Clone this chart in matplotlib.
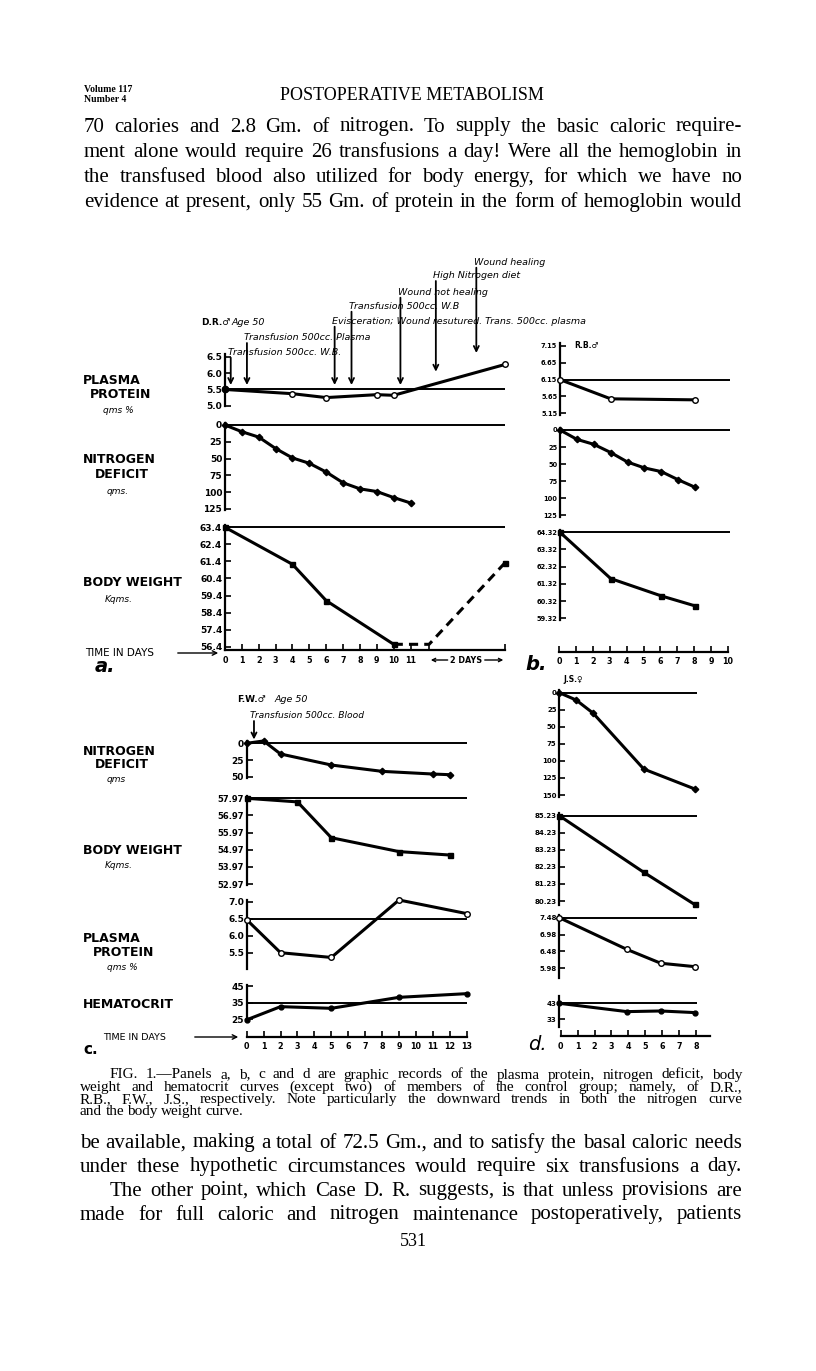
import matplotlib
matplotlib.use('Agg')
import matplotlib.pyplot as plt
from matplotlib.transforms import blended_transform_factory

plt.rcParams['font.family'] = ['DejaVu Sans']

W, H = 816, 1371
SERIF = 'Liberation Serif'

# ---- panel a : D.R. ----
a_pp_days = [0, 4, 6, 9, 10, 16.6]
a_pp = [5.5, 5.37, 5.25, 5.34, 5.32, 6.27]
a_n_days = [0, 1, 2, 3, 4, 5, 6, 7, 8, 9, 10, 11]
a_n = [0, 10, 18, 35, 49, 57, 70, 86, 95, 99, 108, 116]
a_bw_days = [0, 4, 6, 10]
a_bw = [63.4, 61.23, 59.1, 56.54]
a_bw_late_days = [10, 12.1, 16.6]      # after the "2 days" break
a_bw_late = [56.54, 56.54, 61.32]
a_events = ['Transfusion 500cc. W.B.', 'Transfusion 500cc. Plasma',
            'Evisceration; Wound resutured. Trans. 500cc. plasma',
            'Transfusion 500cc. W.B', 'Wound not healing',
            'High Nitrogen diet', 'Wound healing']
a_event_days = [0.34, 1.3, 6.5, 7.5, 10.4, 12.5, 14.9]

# ---- panel b : R.B. ----
b_pp_days = [0, 3, 8]
b_pp = [6.15, 5.58, 5.55]
b_n_days = [0, 1, 2, 3, 4, 5, 6, 7, 8]
b_n = [0, 13.7, 21, 33, 47, 55.6, 61, 73, 84]
b_bw_days = [0, 3, 6, 8]
b_bw = [64.32, 61.63, 60.62, 60.04]

# ---- panel c : F.W. ----
c_n_days = [0, 1, 2, 5, 8, 11, 12]
c_n = [0, -3.5, 16, 32.5, 42, 46, 47]
c_bw_days = [0, 3, 5, 9, 12]
c_bw = [57.97, 57.76, 55.67, 54.86, 54.66]
c_pp_days = [0, 2, 5, 9, 13]
c_pp = [6.47, 5.5, 5.36, 7.05, 6.65]
c_hct_days = [0, 2, 5, 9, 13]
c_hct = [24.7, 32.6, 31.6, 38.2, 40.4]
c_event_day = 0.43

# ---- panel d : J.S. ----
d_n_days = [0, 1, 2, 5, 8]
d_n = [0, 10.8, 30, 112, 141]
d_bw_days = [0, 5, 8]
d_bw = [85.23, 81.91, 80.03]
d_pp_days = [0, 4, 6, 8]
d_pp = [7.48, 6.54, 6.13, 6.03]
d_hct_days = [0, 4, 6, 8]
d_hct = [43, 37.8, 38.2, 37.2]

fig = plt.figure(figsize=(W / 100, H / 100), dpi=100)
fig.patch.set_facecolor('white')


def ftext(x, y, s, **kw):
    kw.setdefault('va', 'center')
    return fig.text(x / W, 1 - y / H, s, **kw)


def panel(x0, x1, xmax, v1, p1, v2, p2, s_top, s_bot, ticks, labels, size=6.5):
    k = (v2 - v1) / (p2 - p1)
    ax = fig.add_axes([x0 / W, 1 - s_bot / H, (x1 - x0) / W, (s_bot - s_top) / H])
    ax.set_xlim(0, xmax)
    ax.set_ylim(v1 + (s_bot - p1) * k, v1 + (s_top - p1) * k)
    for s in ['top', 'right', 'bottom']:
        ax.spines[s].set_visible(False)
    ax.spines['left'].set_linewidth(1.6)
    ax.set_xticks([])
    ax.set_yticks(ticks)
    ax.set_yticklabels(labels, fontweight='bold')
    ax.tick_params(axis='y', direction='in', length=4, width=1.2, pad=2, labelsize=size)
    ax.patch.set_visible(False)
    return ax


def time_axis(x0, x1, xmax, y, ticks, labels):
    ax = fig.add_axes([x0 / W, 1 - y / H, (x1 - x0) / W, 0.0005])
    ax.set_xlim(0, xmax)
    for s in ['top', 'right', 'left']:
        ax.spines[s].set_visible(False)
    ax.spines['bottom'].set_linewidth(1.6)
    ax.set_yticks([])
    ax.set_xticks(ticks)
    ax.set_xticklabels(labels, fontweight='bold')
    ax.tick_params(axis='x', direction='in', length=4, width=1.2, pad=4, labelsize=5.8)
    ax.patch.set_visible(False)
    return ax


def curve(ax, x, y, kind, ref, ls='-'):
    ax.axhline(ref, color='black', lw=1.4, zorder=2)
    if kind == 'pp':
        m = dict(marker='o', ms=4, mfc='white', mec='black', mew=1)
    elif kind == 'n':
        m = dict(marker='D', ms=3.3, mfc='black', mec='black')
    elif kind == 'bw':
        m = dict(marker='s', ms=3.6, mfc='black', mec='black')
    else:
        m = dict(marker='o', ms=3.5, mfc='black', mec='black')
    ax.plot(x, y, color='black', lw=2.2, ls=ls, clip_on=False, zorder=3, **m)


# ================= panel a =================
ax = panel(225, 505, 16.6, 6.5, 357, 5.0, 405.7, 354, 406,
           [5.0, 5.5, 6.0, 6.5], ['5.0', '5.5', '6.0', '6.5'])
curve(ax, a_pp_days, a_pp, 'pp', 5.5)
ax.plot(a_pp_days[0], a_pp[0], 'o', color='black', ms=4.5, clip_on=False, zorder=4)
tr = blended_transform_factory(ax.transData, fig.transFigure)
label_y = [352.7, 338, 321.7, 306.7, 292.7, 276, 262.7]
tip_y = [385, 385, 385, 385, 385, 371.7, 353]
for lab, day, ly, ty in zip(a_events, a_event_days, label_y, tip_y):
    ax.text(day - 0.15, 1 - ly / H, lab, transform=tr, ha='left', va='center',
            style='italic', fontsize=6.8)
    ax.annotate('', xy=(day, 1 - ty / H), xytext=(day, 1 - (ly + 5) / H),
                xycoords=tr, textcoords=tr,
                arrowprops=dict(arrowstyle='->', lw=1.3, color='black',
                                shrinkA=0, shrinkB=0, mutation_scale=9))
ftext(200.7, 322.7, 'D.R.\u2642', fontsize=6.5, fontweight='bold')
ftext(231.7, 322.7, 'Age 50', fontsize=6.8, style='italic')

ax = panel(225, 505, 16.6, 0, 425, 125, 509, 423, 510,
           [0, 25, 50, 75, 100, 125], ['0', '25', '50', '75', '100', '125'])
curve(ax, a_n_days, a_n, 'n', 0)

ax = panel(225, 505, 16.6, 63.4, 527.3, 56.4, 646.7, 525, 650,
           [63.4, 62.4, 61.4, 60.4, 59.4, 58.4, 57.4, 56.4],
           ['63.4', '62.4', '61.4', '60.4', '59.4', '58.4', '57.4', '56.4'])
curve(ax, a_bw_days, a_bw, 'bw', 63.4)
ax.plot(a_bw_late_days, a_bw_late, color='black', lw=2.2, ls=(0, (3, 2)), clip_on=False, zorder=3)
ax.plot(a_bw_late_days[-1], a_bw_late[-1], 's', color='black', ms=3.6, clip_on=False)

tax = time_axis(225, 505, 16.6, 650, list(range(12)) + [12.1, 16.6],
                [str(i) for i in range(12)] + ['', ''])
ttr = blended_transform_factory(tax.transData, fig.transFigure)
tax.text(14.3, 1 - 660 / H, '2 DAYS', transform=ttr, ha='center', va='center',
         fontsize=5.8, fontweight='bold')
for a0, a1 in [(13.2, 12.2), (15.4, 16.5)]:
    tax.annotate('', xy=(a1, 1 - 660 / H), xytext=(a0, 1 - 660 / H), xycoords=ttr,
                 textcoords=ttr, arrowprops=dict(arrowstyle='->', lw=1, color='black',
                                                 shrinkA=0, shrinkB=0, mutation_scale=6))

# left labels a
for x, y, s in [(83, 380.7, 'PLASMA'), (90, 395, 'PROTEIN'), (83, 459, 'NITROGEN'),
                (95, 474, 'DEFICIT'), (83, 583, 'BODY WEIGHT')]:
    ftext(x, y, s, fontsize=9, fontweight='bold')
for x, y, s in [(103, 410, 'qms %'), (107, 491.7, 'qms.'), (105, 599, 'Kqms.')]:
    ftext(x, y, s, fontsize=6.5, style='italic')
ftext(85, 653, 'TIME IN DAYS', fontsize=7.5)
fig.add_artist(matplotlib.patches.FancyArrowPatch((175 / W, 1 - 653 / H), (221 / W, 1 - 653 / H),
               transform=fig.transFigure, arrowstyle='->', mutation_scale=8, lw=1, color='black'))
ftext(95, 666, 'a.', fontsize=14, fontweight='bold', style='italic')

# ================= panel b =================
ax = panel(560, 730, 10.06, 7.15, 346, 5.15, 413.3, 343, 415,
           [7.15, 6.65, 6.15, 5.65, 5.15], ['7.15', '6.65', '6.15', '5.65', '5.15'], size=4.8)
curve(ax, b_pp_days, b_pp, 'pp', 6.15)
ftext(574, 346, 'R.B.\u2642', fontsize=5.5, fontweight='bold')

ax = panel(560, 730, 10.06, 0, 430, 125, 515.3, 428, 517,
           [0, 25, 50, 75, 100, 125], ['0', '25', '50', '75', '100', '125'], size=4.8)
curve(ax, b_n_days, b_n, 'n', 0)

ax = panel(560, 730, 10.06, 64.32, 532.3, 59.32, 618.3, 530, 620,
           [64.32, 63.32, 62.32, 61.32, 60.32, 59.32],
           ['64.32', '63.32', '62.32', '61.32', '60.32', '59.32'], size=4.8)
curve(ax, b_bw_days, b_bw, 'bw', 64.32)

time_axis(559, 728, 10, 651.7, list(range(11)), [str(i) for i in range(11)])
ftext(525, 664, 'b.', fontsize=14, fontweight='bold', style='italic')

# ================= panel c =================
ax = panel(246.7, 466.7, 13, 0, 743.3, 50, 776.7, 741, 778,
           [0, 25, 50], ['0', '25', '50'])
curve(ax, c_n_days, c_n, 'n', 0)
tr = blended_transform_factory(ax.transData, fig.transFigure)
ax.text(c_event_day - 0.25, 1 - 716 / H, 'Transfusion 500cc. Blood', transform=tr,
        ha='left', va='center', style='italic', fontsize=6.6)
ax.annotate('', xy=(c_event_day, 1 - 739.5 / H), xytext=(c_event_day, 1 - 721 / H),
            xycoords=tr, textcoords=tr,
            arrowprops=dict(arrowstyle='->', lw=1.3, color='black',
                            shrinkA=0, shrinkB=0, mutation_scale=9))
ftext(236.7, 699, 'F.W.\u2642', fontsize=6.5, fontweight='bold')
ftext(275, 699, 'Age 50', fontsize=6.8, style='italic')

ax = panel(246.7, 466.7, 13, 57.97, 798.3, 52.97, 884, 796, 885,
           [57.97, 56.97, 55.97, 54.97, 53.97, 52.97],
           ['57.97', '56.97', '55.97', '54.97', '53.97', '52.97'], size=6)
curve(ax, c_bw_days, c_bw, 'bw', 57.97)

ax = panel(246.7, 466.7, 13, 7.0, 901.7, 5.5, 952.7, 900, 969,
           [7.0, 6.5, 6.0, 5.5], ['7.0', '6.5', '6.0', '5.5'])
curve(ax, c_pp_days, c_pp, 'pp', 6.5)

ax = panel(246.7, 466.7, 13, 45, 986, 25, 1019.3, 985, 1021,
           [45, 35, 25], ['45', '35', '25'])
curve(ax, c_hct_days, c_hct, 'hct', 35)

time_axis(246.7, 466.7, 13, 1036.7, list(range(14)), [str(i) for i in range(14)])

for x, y, s in [(83, 751.7, 'NITROGEN'), (95, 765, 'DEFICIT'), (83, 850, 'BODY WEIGHT'),
                (83, 938, 'PLASMA'), (93, 953, 'PROTEIN'), (83, 1005, 'HEMATOCRIT')]:
    ftext(x, y, s, fontsize=9, fontweight='bold')
for x, y, s in [(107, 780, 'qms'), (105, 866, 'Kqms.'), (107, 967, 'qms %')]:
    ftext(x, y, s, fontsize=6.5, style='italic')
ftext(103, 1037, 'TIME IN DAYS', fontsize=6.8)
fig.add_artist(matplotlib.patches.FancyArrowPatch((192 / W, 1 - 1037 / H), (241 / W, 1 - 1037 / H),
               transform=fig.transFigure, arrowstyle='->', mutation_scale=8, lw=1, color='black'))
ftext(83, 1050, 'c.', fontsize=11, fontweight='bold')

# ================= panel d =================
ax = panel(559.3, 696.7, 8.13, 0, 692.7, 150, 795, 690, 797,
           [0, 25, 50, 75, 100, 125, 150], ['0', '25', '50', '75', '100', '125', '150'], size=5)
curve(ax, d_n_days, d_n, 'n', 0)
ftext(563, 680, 'J.S.\u2640', fontsize=5.5, fontweight='bold')

ax = panel(559.3, 696.7, 8.13, 85.23, 815.7, 80.23, 901, 813, 905,
           [85.23, 84.23, 83.23, 82.23, 81.23, 80.23],
           ['85.23', '84.23', '83.23', '82.23', '81.23', '80.23'], size=5)
curve(ax, d_bw_days, d_bw, 'bw', 85.23)

ax = panel(559.3, 696.7, 8.13, 7.48, 917.7, 5.98, 968.3, 915, 978,
           [7.48, 6.98, 6.48, 5.98], ['7.48', '6.98', '6.48', '5.98'], size=5)
curve(ax, d_pp_days, d_pp, 'pp', 7.48)

ax = panel(559.3, 696.7, 8.13, 43, 1003.3, 33, 1019.3, 996, 1027,
           [43, 33], ['43', '33'], size=5)
curve(ax, d_hct_days, d_hct, 'hct', 43)

time_axis(560.7, 710, 8.83, 1036, list(range(9)), [str(i) for i in range(9)])
ftext(528, 1045, 'd.', fontsize=14, style='italic')

# ================= page text =================
renderer = fig.canvas.get_renderer()


def justify(line, x0, x1, y, size, full=True):
    words = line.split()
    ts = [fig.text(0, 1 - y / H, w, fontsize=size, family=SERIF, va='center') for w in words]
    widths = [t.get_window_extent(renderer).width for t in ts]
    if full and len(words) > 1:
        gap = (x1 - x0 - sum(widths)) / (len(words) - 1)
    else:
        gap = size * 0.3
    x = x0
    for t, w in zip(ts, widths):
        t.set_x(x / W)
        x += w + gap


ftext(84, 89, 'Volume 117', fontsize=7, family=SERIF, fontweight='bold')
ftext(84, 99, 'Number 4', fontsize=7, family=SERIF, fontweight='bold')
ftext(412, 95, 'POSTOPERATIVE METABOLISM', fontsize=13, family=SERIF, ha='center')

top_lines = [
    '70 calories and 2.8 Gm. of nitrogen.  To supply the basic caloric require-',
    'ment alone would require 26 transfusions a day!  Were all the hemoglobin in',
    'the transfused blood also utilized for body energy, for which we have no',
    'evidence at present, only 55 Gm. of protein in the form of hemoglobin would',
]
for i, line in enumerate(top_lines):
    justify(line, 84, 742, 127 + i * 25.3, 15)

caption = [
    ('FIG. 1.\u2014Panels a, b, c and d are graphic records of the plasma protein, nitrogen deficit, body', 110, True),
    ('weight and hematocrit curves (except two) of members of the control group; namely, of D.R.,', 80, True),
    ('R.B., F.W., J.S., respectively.  Note particularly the downward trends in both the nitrogen curve', 80, True),
    ('and the body weight curve.', 80, False),
]
for i, (line, x0, full) in enumerate(caption):
    justify(line, x0, 742, 1075 + i * 12.3, 11, full)

bottom_lines = [
    ('be available, making a total of 72.5 Gm., and to satisfy the basal caloric needs', 80),
    ('under these hypothetic circumstances would require six transfusions a day.', 80),
    ('The other point, which Case D. R. suggests, is that unless provisions are', 110),
    ('made for full caloric and nitrogen maintenance postoperatively, patients', 80),
]
for i, (line, x0) in enumerate(bottom_lines):
    justify(line, x0, 742, 1143 + i * 24, 15)
ftext(413, 1241, '531', fontsize=13, family=SERIF, ha='center')

fig.savefig('out.png', dpi=100, facecolor='white')
